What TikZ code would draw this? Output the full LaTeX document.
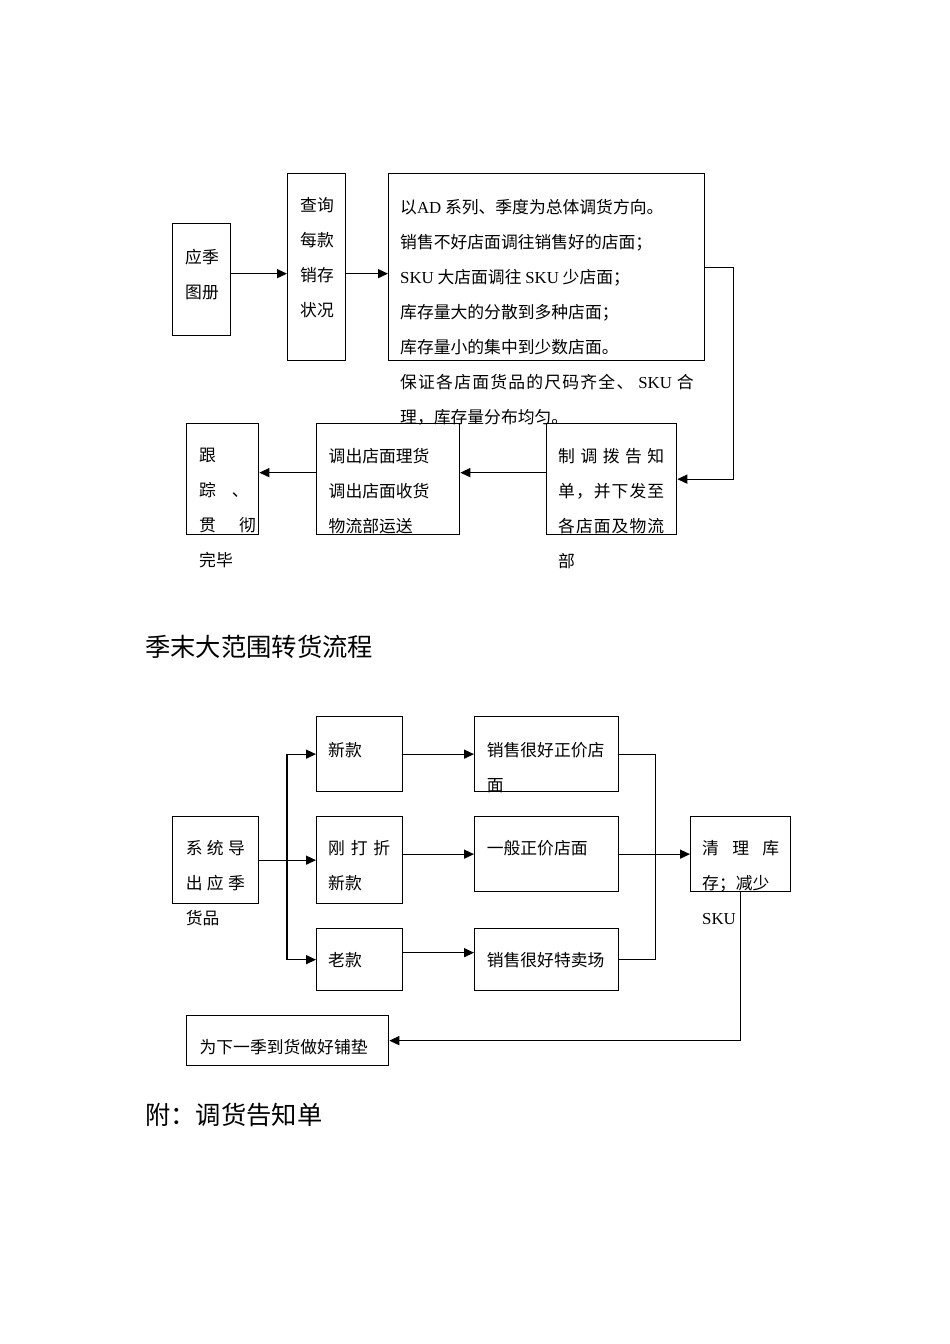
\documentclass[tikz,border=0pt]{standalone}
\usepackage{fontspec}
\setmainfont{Noto Sans CJK SC}
\newfontfamily\lat{Liberation Serif}
\usetikzlibrary{arrows.meta}

\newcommand\en[1]{{\lat #1}}
\newcommand\tiao[2]{\makebox[#1][s]{#2}}

\tikzset{
  box/.style={draw, line width=1.3pt, anchor=north west, inner sep=0pt},
  wen/.style={anchor=north west, inner sep=0pt, align=left, font=\fontsize{16.8}{35}\selectfont},
  biaoti/.style={anchor=west, inner sep=0pt, font=\fontsize{25.3}{30}\selectfont},
  jt/.style={line width=1.3pt, -{Triangle[length=10pt,width=9pt]}},
  xian/.style={line width=1.3pt},
}

\begin{document}
\begin{tikzpicture}[x=1pt, y=-1pt]
   \fill[white] (0,0) rectangle (950,1344);
   \useasboundingbox (0,0) rectangle (950,1344);

   % 上半部分：调货流程
   \node[box, minimum width=58pt, minimum height=112pt] (tuce) at (172,223) {};
   \node[box, minimum width=58pt, minimum height=187pt] (chaxun) at (287,173) {};
   \node[box, minimum width=316pt, minimum height=187pt] (fangxiang) at (388,173) {};
   \node[box, minimum width=130pt, minimum height=111pt] (tongzhi) at (546,423) {};
   \node[box, minimum width=143pt, minimum height=111pt] (diaochu) at (316,423) {};
   \node[box, minimum width=72pt, minimum height=111pt] (genzong) at (186,423) {};

   \node[wen] (tuce-t) at (185,248.7) {应季\\图册};
   \node[wen] (chaxun-t) at (300,197) {查询\\每款\\销存\\状况};
   \node[wen] (fangxiang-t) at (400,199) {以\en{AD} 系列、季度为总体调货方向。\\
      销售不好店面调往销售好的店面；\\
      \en{SKU} 大店面调往 \en{SKU} 少店面；\\
      库存量大的分散到多种店面；\\
      库存量小的集中到少数店面。\\
      \tiao{293.5pt}{保\hfill{}证\hfill{}各\hfill{}店\hfill{}面\hfill{}货\hfill{}品\hfill{}的\hfill{}尺\hfill{}码\hfill{}齐\hfill{}全\hfill{}、\hfill{} \en{SKU} \hfill{}合}\\
      理，库存量分布均匀。};
   \node[wen] (tongzhi-t) at (558,447.7) {\tiao{106pt}{制\hfill{}调\hfill{}拨\hfill{}告\hfill{}知}\\
      \tiao{106pt}{单\hfill{}，\hfill{}并\hfill{}下\hfill{}发\hfill{}至}\\
      \tiao{106pt}{各\hfill{}店\hfill{}面\hfill{}及\hfill{}物\hfill{}流}\\
      部};
   \node[wen] (diaochu-t) at (328.5,447.7) {调出店面理货\\调出店面收货\\物流部运送};
   \node[wen] (genzong-t) at (199,447.7) {跟\\踪\hspace{16pt}、\\贯\hspace{23pt}彻\\完毕};

   \coordinate (t1) at ([yshift=6pt]tuce.east);
   \coordinate (t3) at ([yshift=6.5pt]tongzhi.west);
   \draw[jt] (t1) -- (t1 -| chaxun.west);
   \draw[jt] (t1 -| chaxun.east) -- (t1 -| fangxiang.west);
   \draw[jt] (fangxiang.east) -- ++(28,0) |- (tongzhi.east);
   \draw[jt] (t3) -- (t3 -| diaochu.east);
   \draw[jt] (t3 -| diaochu.west) -- (t3 -| genzong.east);

   \node[biaoti] (bt1) at (145,647) {季末大范围转货流程};

   % 下半部分：季末转货
   \node[box, minimum width=86pt, minimum height=87pt] (daochu) at (172,816) {};
   \node[box, minimum width=86pt, minimum height=75pt] (xinkuan) at (316,716) {};
   \node[box, minimum width=86pt, minimum height=87pt] (gangda) at (316,816) {};
   \node[box, minimum width=86pt, minimum height=62pt] (laokuan) at (316,928) {};
   \node[box, minimum width=144pt, minimum height=75pt] (zhengjia) at (474,716) {};
   \node[box, minimum width=144pt, minimum height=75pt] (yiban) at (474,816) {};
   \node[box, minimum width=144pt, minimum height=62pt] (temai) at (474,928) {};
   \node[box, minimum width=100pt, minimum height=75pt] (qingli) at (690,816) {};
   \node[box, minimum width=202pt, minimum height=50pt] (pudian) at (186,1015) {};

   \node[wen] (daochu-t) at (185.7,840.3) {\tiao{59pt}{系\hfill{}统\hfill{}导}\\\tiao{59pt}{出\hfill{}应\hfill{}季}\\货品};
   \node[wen] (xinkuan-t) at (328,742) {新款};
   \node[wen] (gangda-t) at (328,840) {\tiao{62pt}{刚\hfill{}打\hfill{}折}\\新款};
   \node[wen] (laokuan-t) at (328,952) {老款};
   \node[wen] (zhengjia-t) at (486.6,742) {销售很好正价店\\面};
   \node[wen] (yiban-t) at (486.6,840) {一般正价店面};
   \node[wen] (temai-t) at (486.6,952) {销售很好特卖场};
   \node[wen] (qingli-t) at (702,840) {\tiao{77pt}{清\hfill{}理\hfill{}库}\\存；减少\\\en{SKU}};
   \node[wen] (pudian-t) at (199.4,1038.7) {为下一季到货做好铺垫};

   \coordinate (fen) at (287,859.5);
   \coordinate (t4) at ([yshift=7pt]laokuan.east);
   \draw[jt] (daochu.east) -- (gangda.west);
   \draw[jt] (fen) |- (xinkuan.west);
   \draw[jt] (fen) |- (laokuan.west);
   \draw[jt] (xinkuan.east) -- (zhengjia.west);
   \draw[jt] (gangda.east |- yiban.west) -- (yiban.west);
   \draw[jt] (t4) -- (t4 -| temai.west);
   \draw[xian] (zhengjia.east) -- ++(36,0) |- (temai.east);
   \draw[jt] (yiban.east) -- (qingli.west);
   \draw[jt] (qingli.south) |- (pudian.east);

   \node[biaoti] (bt2) at (145,1115) {附：调货告知单};
\end{tikzpicture}
\end{document}
